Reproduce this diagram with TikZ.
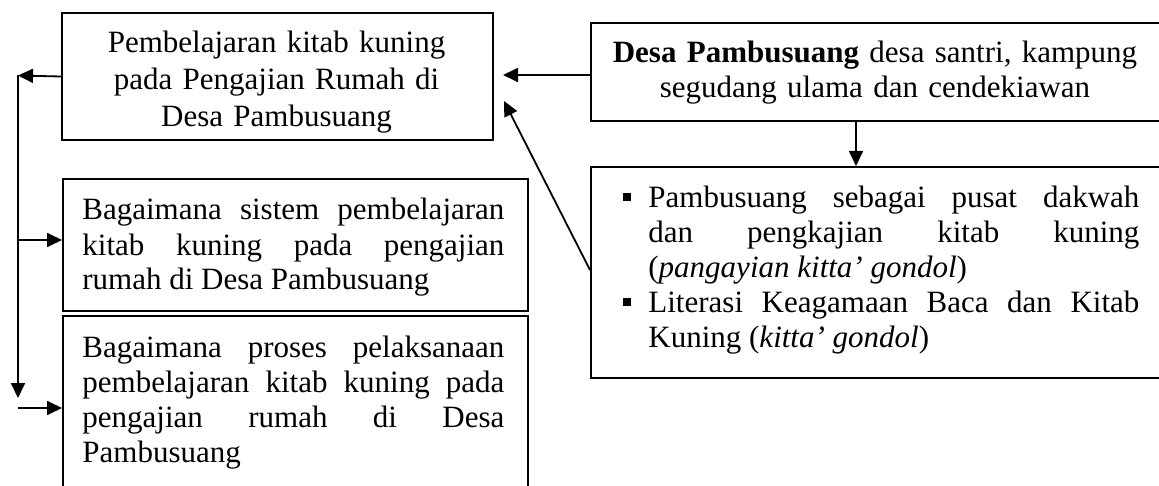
\documentclass[tikz,border=0pt]{standalone}
\usepackage{fontspec}
\setmainfont{Liberation Serif}
\usetikzlibrary{arrows.meta,calc}
\newcommand\fsz{\fontsize{15.5pt}{17.5pt}\selectfont}
\newcommand\fsa{\fontsize{15.5pt}{18.5pt}\selectfont}
\tikzset{
  box/.style={draw, line width=1pt, inner sep=0pt, anchor=north west},
  txt/.style={inner sep=0pt, font=\fsz},
  bullet/.style={fill=black, inner sep=0pt, minimum size=4.2pt},
  arr/.style={line width=0.9pt, -{Triangle[length=7.5pt,width=7pt]}}
}
\begin{document}
\begin{tikzpicture}[x=0.5pt,y=-0.5pt]
\clip (0,0) rectangle (1159,486);
\fill[white] (0,0) rectangle (1159,486);
% boxes
\node[box, minimum width=215.5pt, minimum height=63.5pt] (A) at (61,12) {};
\node[box, minimum width=286pt, minimum height=49pt] (B) at (590,22) {};
\node[box, minimum width=232.5pt, minimum height=66pt] (C) at (62,178) {};
\node[box, minimum width=232.5pt, minimum height=87.5pt] (D) at (62,315) {};
\node[box, minimum width=286pt, minimum height=105.5pt] (E) at (590,166) {};
% texts
\node[txt, font=\fsa, anchor=base, text width=214pt, align=center] (tA) at (276.5,53)
  {Pembelajaran kitab kuning\\pada Pengajian Rumah di\\Desa Pambusuang};
\node[txt, anchor=base, text width=284pt, align=center] (tB) at (875,63)
  {\textbf{Desa Pambusuang} desa santri, kampung\\segudang ulama dan cendekiawan};
\node[txt, anchor=base west, text width=211pt, align=justify] (tC) at (82,220)
  {Bagaimana sistem pembelajaran\linebreak kitab kuning pada pengajian\linebreak rumah di Desa Pambusuang};
\node[txt, anchor=base west, text width=211pt, align=justify] (tD) at (82,357)
  {Bagaimana proses pelaksanaan\linebreak pembelajaran kitab kuning pada\linebreak pengajian rumah di Desa\linebreak Pambusuang};
\node[bullet] (b1) at (627,197) {};
\node[txt, anchor=base west, text width=245.5pt, align=justify] (tE1) at (648,207)
  {Pambusuang sebagai pusat dakwah\linebreak dan pengkajian kitab kuning\linebreak (\textit{pangayian kitta’ gondol})};
\node[bullet] (b2) at (627,302) {};
\node[txt, anchor=base west, text width=245.5pt, align=justify] (tE2) at (648,312)
  {Literasi Keagamaan Baca dan Kitab\linebreak Kuning (\textit{kitta’ gondol})};
% coordinates
\coordinate (a1) at ($(A.east)+(9,-1.5)$);
\coordinate (a2) at ($(A.east)+(10,24.5)$);
\coordinate (e1) at ($(E.north west)+(0,104)$);
\coordinate (bs) at ($(B.south west)+(266,0)$);
\coordinate (en) at ($(E.north west)+(266,0)$);
\coordinate (L1) at (18,75.5);
\coordinate (L2) at (18,398);
\coordinate (c1) at (18,240);
\coordinate (d1) at (18,408);
% connectors
\draw[arr] (B.west |- a1) -- (a1);
\draw[arr] (e1) -- (a2);
\draw[arr] (bs) -- (en);
\draw[arr] (A.west) -- (L1);
\draw[arr] (L1) -- (L2);
\draw[arr] (c1) -- (c1 -| C.west);
\draw[arr] (d1) -- (d1 -| D.west);
\end{tikzpicture}
\end{document}
